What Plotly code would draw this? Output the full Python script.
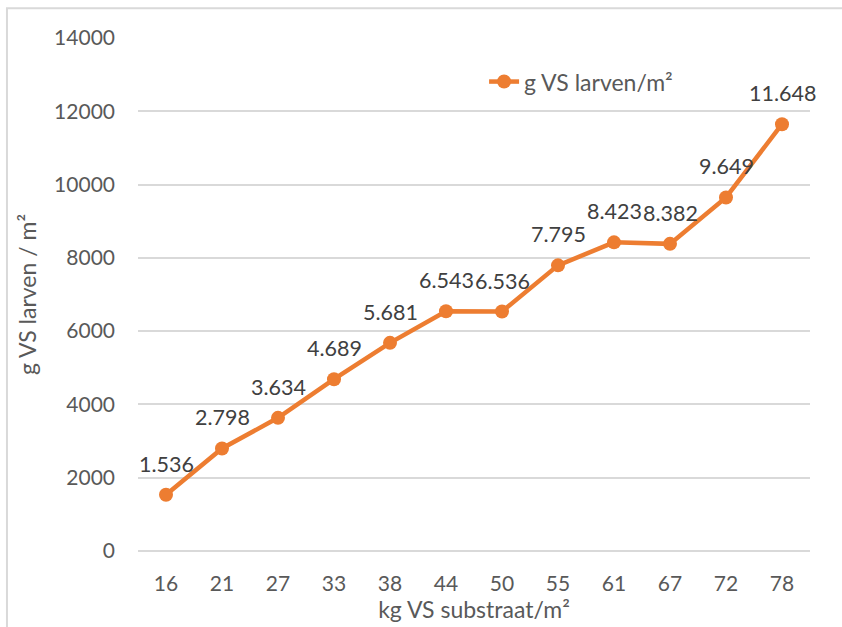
import plotly.graph_objects as go

# substrate load per m² (category axis) and larval yield per m²
substrate = ["16", "21", "27", "33", "38", "44", "50", "55", "61", "67", "72", "78"]
larvae = [1536, 2798, 3634, 4689, 5681, 6543, 6536, 7795, 8423, 8382, 9649, 11648]
y_ticks = [0, 2000, 4000, 6000, 8000, 10000, 12000, 14000]

ORANGE = "#ED7D31"
GRID = "#D9D9D9"
FONT = "Lato"
TEXT_GREY = "#595959"


def nl_thousands(v):
    return f"{v:,}".replace(",", ".")


fig = go.Figure()
fig.add_trace(go.Scatter(
    x=substrate,
    y=larvae,
    mode="lines+markers",
    name="g VS larven/m²",
    line=dict(color=ORANGE, width=4.5),
    marker=dict(color=ORANGE, size=14),
))

# value labels above every point (category axes take the category index)
for i, val in enumerate(larvae):
    fig.add_annotation(
        x=i, y=val, xref="x", yref="y", text=nl_thousands(val), showarrow=False,
        yshift=31, yanchor="middle", xanchor="center",
        font=dict(family=FONT, size=21.5, color="#404040"),
    )

# chart-area border
fig.add_shape(
    type="rect", xref="paper", yref="paper",
    x0=-0.195, x1=1.2, y0=-0.3, y1=1.058,
    line=dict(color=GRID, width=2), fillcolor="rgba(0,0,0,0)", layer="below",
)

fig.update_layout(
    width=842, height=627,
    margin=dict(l=138, r=32, t=38, b=74),
    paper_bgcolor="white", plot_bgcolor="white",
    font=dict(family=FONT, size=21, color=TEXT_GREY),
    showlegend=True,
    legend=dict(
        x=0.515, y=0.915, xanchor="left", yanchor="middle",
        bgcolor="rgba(0,0,0,0)", font=dict(family=FONT, size=23, color=TEXT_GREY),
    ),
    xaxis=dict(
        type="category", range=[-0.5, len(substrate) - 0.5],
        showgrid=False, zeroline=False, showline=False, ticks="",
        ticklabelstandoff=18,
        title=dict(text="kg VS substraat/m²", standoff=4,
                   font=dict(family=FONT, size=23, color=TEXT_GREY)),
    ),
    yaxis=dict(
        range=[0, 14000], tickvals=y_ticks, ticktext=[str(t) for t in y_ticks],
        showgrid=True, gridcolor=GRID, gridwidth=1.5,
        zeroline=True, zerolinecolor=GRID, zerolinewidth=1.5,
        showline=False, ticks="", ticklabelstandoff=22,
        title=dict(text="g VS larven / m²", standoff=11,
                   font=dict(family=FONT, size=23, color=TEXT_GREY)),
    ),
)

fig.write_html("out.html")
